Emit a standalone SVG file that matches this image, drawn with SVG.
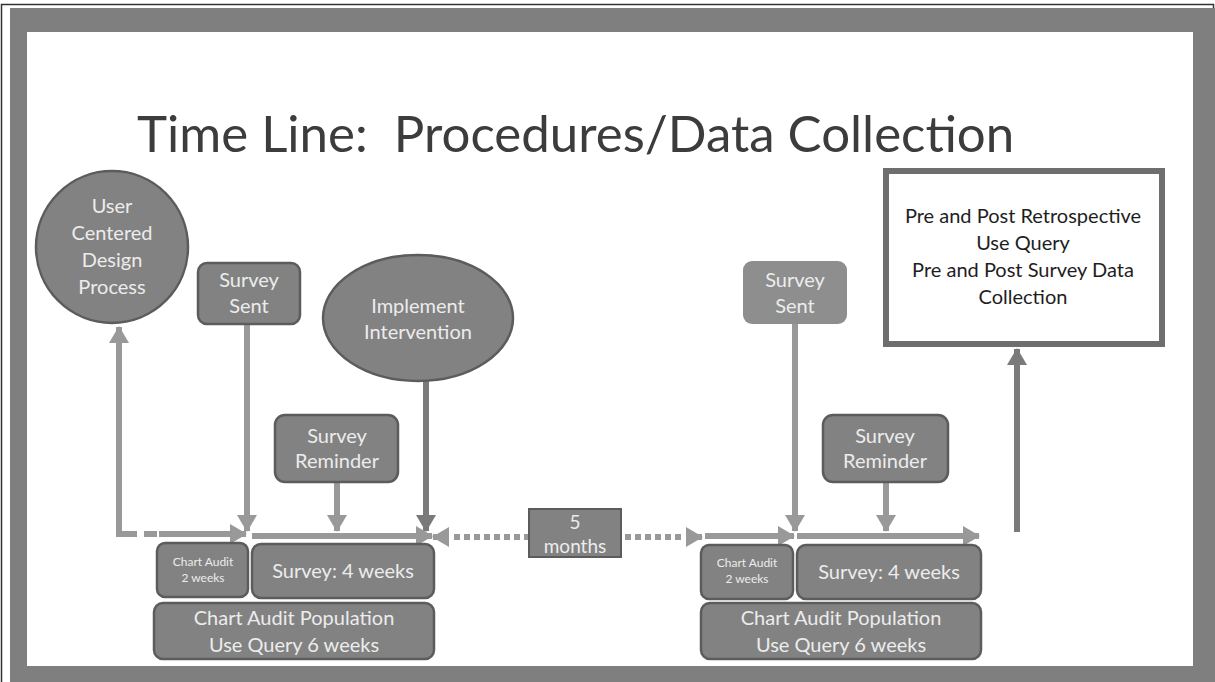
<svg xmlns="http://www.w3.org/2000/svg" width="1215" height="682" viewBox="0 0 1215 682">
  <style>
    .node { fill: #828282; stroke: #5c5c5c; stroke-width: 2.5; }
    .soft { fill: #8e8e8e; stroke: none; }
    .lbl { font-family: Lato, "Open Sans", "Liberation Sans", sans-serif; fill: #ececec; text-anchor: middle; font-size: 20px; }
    .small { font-size: 12px; }
    .dark { fill: #1e1e1e; }
    .title { font-family: Lato, "Open Sans", "Liberation Sans", sans-serif; fill: #3c3c3c; font-size: 51px; white-space: pre; }
    .wire { fill: none; stroke: #999999; stroke-width: 6; }
    .wire-dark { fill: none; stroke: #7a7a7a; stroke-width: 6; }
    .dots { fill: none; stroke: #999999; stroke-width: 6; stroke-dasharray: 6 4; }
  </style>
  <defs>
    <marker id="head" markerUnits="userSpaceOnUse" markerWidth="18" markerHeight="20" refX="16" refY="10" orient="auto">
      <path d="M0,0 L17,10 L0,20 z" fill="#999999"/>
    </marker>
    <marker id="head-dark" markerUnits="userSpaceOnUse" markerWidth="18" markerHeight="20" refX="16" refY="10" orient="auto">
      <path d="M0,0 L17,10 L0,20 z" fill="#7a7a7a"/>
    </marker>
  </defs>

  <!-- slide frame -->
  <rect x="0" y="0" width="1215" height="682" fill="#ffffff"/>
  <rect x="1.5" y="4.5" width="1212" height="680" fill="none" stroke="#333333" stroke-width="1.5"/>
  <rect x="10" y="8" width="1205" height="674" fill="#7f7f7f"/>
  <rect x="27" y="32" width="1166" height="634" fill="#ffffff"/>

  <text class="title" x="137" y="152" xml:space="preserve">Time Line:  Procedures/Data Collection</text>

  <!-- connectors -->
  <g id="connectors">
    <!-- design process loop -->
    <path class="wire" d="M119,534 L119,327" marker-end="url(#head)"/>
    <path class="wire" d="M116,534 L137,534"/>
    <path class="wire" d="M144,534 L157,534"/>
    <path class="wire" d="M159,534 L246,534" marker-end="url(#head)"/>
    <!-- first survey window -->
    <path class="wire" d="M247,324 L247,531" marker-end="url(#head)"/>
    <path class="wire" d="M337,482 L337,531" marker-end="url(#head)"/>
    <path class="wire-dark" d="M426,381 L426,531" marker-end="url(#head-dark)"/>
    <path class="wire" d="M252,536 L432,536" marker-end="url(#head)"/>
    <!-- five month gap -->
    <path class="dots" d="M530,537 L452,537"/>
    <path class="wire" d="M440,537 L433,537" marker-end="url(#head)"/>
    <path class="dots" d="M625,537 L685,537"/>
    <path class="wire" d="M690,537 L702,537" marker-end="url(#head)"/>
    <!-- second survey window -->
    <path class="wire" d="M705,536 L794,536" marker-end="url(#head)"/>
    <path class="wire" d="M795,324 L795,531" marker-end="url(#head)"/>
    <path class="wire" d="M886,482 L886,531" marker-end="url(#head)"/>
    <path class="wire" d="M797,536 L979,536" marker-end="url(#head)"/>
    <path class="wire-dark" d="M1017,532 L1017,349" marker-end="url(#head-dark)"/>
  </g>

  <!-- nodes -->
  <g id="design-process">
    <circle class="node" cx="112" cy="247" r="76"/>
    <text class="lbl" x="112" y="213">User</text>
    <text class="lbl" x="112" y="240">Centered</text>
    <text class="lbl" x="112" y="267">Design</text>
    <text class="lbl" x="112" y="294">Process</text>
  </g>

  <g id="survey-sent-1">
    <rect class="node" x="198" y="263" width="102" height="61" rx="9"/>
    <text class="lbl" x="249" y="287">Survey</text>
    <text class="lbl" x="249" y="313">Sent</text>
  </g>

  <g id="implement">
    <ellipse class="node" cx="418" cy="318" rx="95" ry="63"/>
    <text class="lbl" x="418" y="313">Implement</text>
    <text class="lbl" x="418" y="339">Intervention</text>
  </g>

  <g id="reminder-1">
    <rect class="node" x="275" y="415" width="123" height="67" rx="10"/>
    <text class="lbl" x="337" y="443">Survey</text>
    <text class="lbl" x="337" y="468">Reminder</text>
  </g>

  <g id="chart-audit-1">
    <rect class="node" x="157" y="543" width="91" height="54" rx="8"/>
    <text class="lbl small" x="203" y="566">Chart Audit</text>
    <text class="lbl small" x="203" y="582">2  weeks</text>
  </g>

  <g id="survey-window-1">
    <rect class="node" x="252" y="544" width="182" height="54" rx="9"/>
    <text class="lbl" x="343" y="578">Survey: 4 weeks</text>
  </g>

  <g id="population-1">
    <rect class="node" x="154" y="603" width="280" height="56" rx="9"/>
    <text class="lbl" x="294" y="625">Chart Audit Population</text>
    <text class="lbl" x="294" y="652">Use Query 6 weeks</text>
  </g>

  <g id="gap">
    <rect class="node" x="529" y="509" width="92" height="48" style="stroke-width:2"/>
    <text class="lbl" x="575" y="529" style="font-size:19px">5</text>
    <text class="lbl" x="575" y="553" style="font-size:19px">months</text>
  </g>

  <g id="survey-sent-2">
    <rect class="soft" x="743" y="261" width="104" height="63" rx="9"/>
    <text class="lbl" x="795" y="287">Survey</text>
    <text class="lbl" x="795" y="313">Sent</text>
  </g>

  <g id="reminder-2">
    <rect class="node" x="823" y="415" width="125" height="67" rx="10"/>
    <text class="lbl" x="885" y="443">Survey</text>
    <text class="lbl" x="885" y="468">Reminder</text>
  </g>

  <g id="chart-audit-2">
    <rect class="node" x="701" y="545" width="92" height="54" rx="8"/>
    <text class="lbl small" x="747" y="567">Chart Audit</text>
    <text class="lbl small" x="747" y="583">2  weeks</text>
  </g>

  <g id="survey-window-2">
    <rect class="node" x="797" y="545" width="184" height="54" rx="9"/>
    <text class="lbl" x="889" y="579">Survey: 4 weeks</text>
  </g>

  <g id="population-2">
    <rect class="node" x="701" y="603" width="280" height="56" rx="9"/>
    <text class="lbl" x="841" y="625">Chart Audit Population</text>
    <text class="lbl" x="841" y="652">Use Query 6 weeks</text>
  </g>

  <g id="retrospective">
    <rect x="886" y="171" width="276" height="173" fill="#ffffff" stroke="#6e6e6e" stroke-width="6"/>
    <text class="lbl dark" x="1023" y="223">Pre and Post Retrospective</text>
    <text class="lbl dark" x="1023" y="250">Use Query</text>
    <text class="lbl dark" x="1023" y="277">Pre and Post Survey Data</text>
    <text class="lbl dark" x="1023" y="304">Collection</text>
  </g>
</svg>
